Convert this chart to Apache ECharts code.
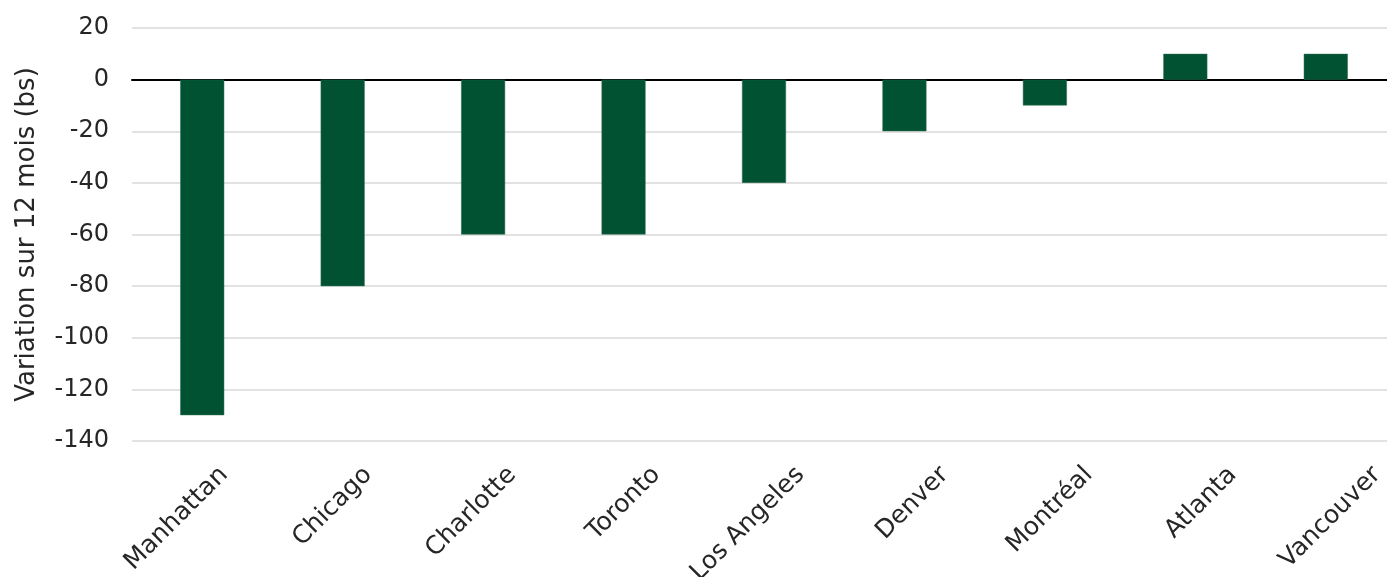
<!DOCTYPE html>
<html>
<head>
<meta charset="utf-8">
<script src="https://cdn.jsdelivr.net/npm/echarts@6/dist/echarts.min.js"></script>
<style>
  html, body { margin: 0; padding: 0; background: #fff; overflow: hidden; }
  #chart { width: 1460px; height: 577px; }
</style>
</head>
<body>
<div id="chart"></div>
<script>
// Markets, ordered from largest decline to largest increase
const cities = ['Manhattan', 'Chicago', 'Charlotte', 'Toronto', 'Los Angeles', 'Denver', 'Montréal', 'Atlanta', 'Vancouver'];
// 12-month change, in basis points
const changeBps = [-130, -80, -60, -60, -40, -20, -10, 10, 10];
const yAxisTitle = 'Variation sur 12 mois (bs)';

const FONT = '"DejaVu Sans", sans-serif';
const TEXT = '#262626';

const chart = echarts.init(document.getElementById('chart'), null, { renderer: 'canvas' });

chart.setOption({
  animation: false,
  grid: [
    // plot area: bars, gridlines, zero line
    { left: 132, top: 28, width: 1264, height: 413, outerBoundsMode: 'none', containLabel: false },
    // label band: same categories on a slightly wider, right-shifted span
    { left: 152, top: 28, width: 1297, height: 413, outerBoundsMode: 'none', containLabel: false }
  ],
  xAxis: [{
    type: 'category',
    gridIndex: 0,
    data: cities,
    axisLine: { onZero: true, lineStyle: { color: '#000', width: 2 } },
    axisTick: { show: false },
    axisLabel: { show: false }
  }, {
    type: 'category',
    gridIndex: 1,
    data: cities,
    axisLine: { show: false, onZero: false },
    axisTick: { show: false },
    axisLabel: {
      rotate: 45,
      interval: 0,
      margin: 30,
      fontFamily: FONT,
      fontSize: 25,
      color: TEXT
    }
  }],
  yAxis: [{
    type: 'value',
    gridIndex: 0,
    min: -140,
    max: 20,
    interval: 20,
    name: yAxisTitle,
    nameLocation: 'middle',
    nameGap: 92,
    nameTextStyle: { fontFamily: FONT, fontSize: 26, color: TEXT },
    axisLine: { show: false },
    axisTick: { show: false },
    axisLabel: { margin: 23, fontFamily: FONT, fontSize: 24, color: TEXT },
    splitLine: { lineStyle: { color: '#d9d9d9', width: 1.5 } }
  }, {
    type: 'value',
    gridIndex: 1,
    min: -140,
    max: 20,
    show: false
  }],
  series: [{
    type: 'bar',
    xAxisIndex: 0,
    yAxisIndex: 0,
    data: changeBps,
    barWidth: 44,
    itemStyle: { color: '#005232', borderColor: '#2e6e52', borderWidth: 0.5 }
  }]
});
</script>
</body>
</html>
